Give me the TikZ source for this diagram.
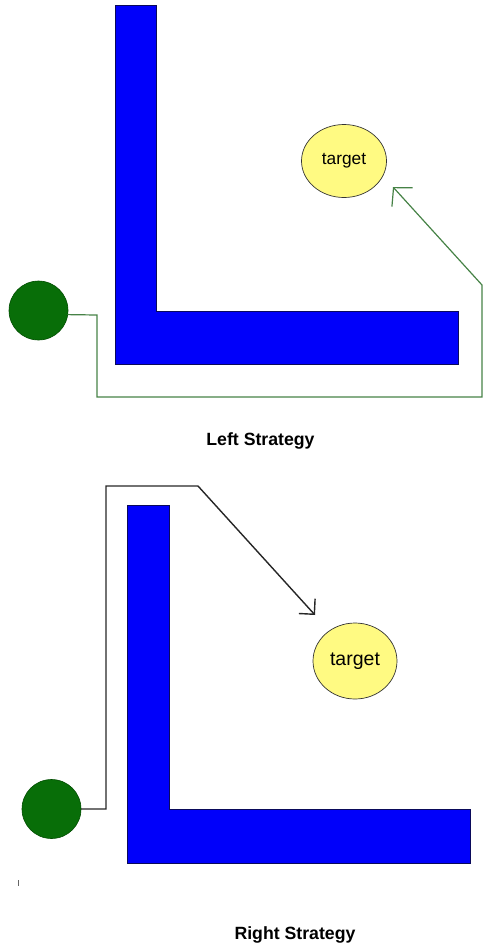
\documentclass[tikz,border=0pt]{standalone}
\usepackage{fontspec}
\setmainfont{Liberation Sans}
\usetikzlibrary{shapes.geometric, arrows.meta}

\definecolor{wallblue}{RGB}{0,0,250}
\definecolor{walledge}{RGB}{10,10,90}
\definecolor{botgreen}{RGB}{8,110,8}
\definecolor{tgtyellow}{RGB}{255,250,130}
\definecolor{pathgreen}{RGB}{70,130,70}

\begin{document}
\begin{tikzpicture}[x=1pt, y=-1pt,
  wall/.style={fill=wallblue, draw=walledge, line width=1pt},
  bot/.style={circle, fill=botgreen, draw=black!70!green, line width=0.6pt,
              minimum size=59pt, inner sep=0pt, outer sep=0pt},
  tgt/.style={ellipse, fill=tgtyellow, draw=black!80, line width=0.7pt,
              inner sep=0pt, outer sep=0pt},
  route/.style={line width=1.2pt, -{Straight Barb[length=13pt, width=28pt]}},
  caption/.style={font=\bfseries\fontsize{17.7}{20}\selectfont}]

  \useasboundingbox (0,0) rectangle (491,951);

  % Arriba: estrategia izquierda
  \draw[wall] (115,5) -- (156,5) -- (156,311) -- (458,311) -- (458,364)
              -- (115,364) -- cycle;
  \node[bot] (botA) at (38.5,310.5) {};
  \node[tgt, minimum width=85pt, minimum height=73pt] (tgtA) at (344,161)
        {\fontsize{17.3}{20}\selectfont target};
  \coordinate (tipA) at (393,187);
  \draw[route, pathgreen] (botA.-8) -- (97,315) -- (97,397) -- (482,397)
        -- (482,285) -- (tipA);
  \node[caption] (capA) at (260.5,441) {Left Strategy};

  % Abajo: estrategia derecha
  \draw[wall] (127,505) -- (169,505) -- (169,809) -- (470,809) -- (470,863)
              -- (127,863) -- cycle;
  \node[bot] (botB) at (51.5,809) {};
  \node[tgt, minimum width=84pt, minimum height=76pt] (tgtB) at (355,661)
        {\fontsize{19.5}{22}\selectfont target};
  \coordinate (tipB) at (315,615);
  \draw[route, black!85, line width=1.4pt,
        -{Straight Barb[length=11pt, width=22pt]}]
        (botB.east) -- (106,809) -- (106,486) -- (198,486) -- (tipB);
  \node[caption] (capB) at (295,935) {Right Strategy};

  % Marca suelta
  \draw[black!60, line width=1pt] (18,880) -- (18,886);
\end{tikzpicture}
\end{document}
